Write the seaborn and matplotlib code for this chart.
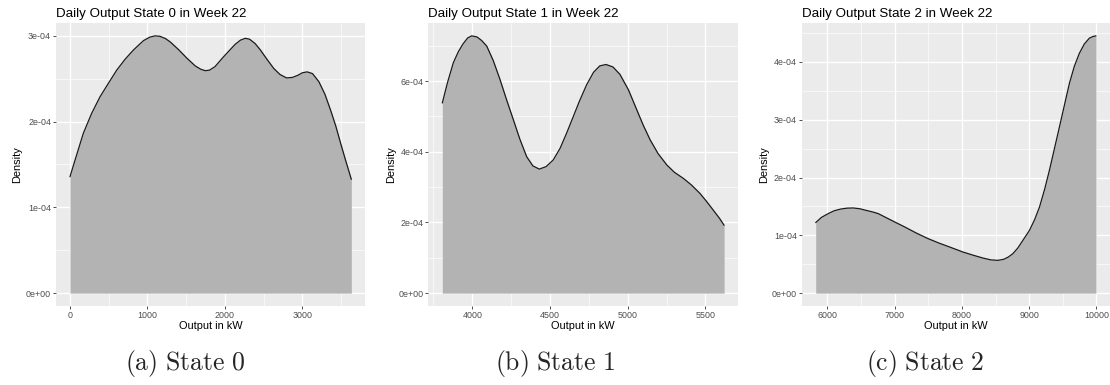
import matplotlib
matplotlib.use("Agg")
import matplotlib.pyplot as plt
import numpy as np
import pandas as pd
import seaborn as sns
from matplotlib.ticker import FixedLocator, FuncFormatter

# Estimated density of daily output (kW) for each state in week 22.
# Density values are given in units of 1e-4.
state0_kw = [0, 65, 172, 280, 388, 496, 603, 711, 819, 948, 1030, 1099, 1160,
             1230, 1293, 1401, 1509, 1616, 1690, 1746, 1800, 1870, 1983, 2130,
             2200, 2264, 2320, 2390, 2458, 2540, 2630, 2710, 2794, 2870, 2940,
             3000, 3062, 3130, 3212, 3290, 3363, 3430, 3493, 3560, 3631]
state0_density = [1.357, 1.55, 1.863, 2.097, 2.29, 2.447, 2.60, 2.727, 2.835,
                  2.944, 2.985, 3.00, 2.995, 2.97, 2.93, 2.84, 2.74, 2.65,
                  2.61, 2.594, 2.60, 2.64, 2.757, 2.90, 2.95, 2.972, 2.96,
                  2.91, 2.835, 2.73, 2.62, 2.55, 2.51, 2.515, 2.54, 2.57,
                  2.58, 2.56, 2.466, 2.32, 2.135, 1.95, 1.747, 1.54, 1.327]

state1_kw = [3807, 3840, 3878, 3910, 3940, 3970, 3996, 4030, 4060, 4093, 4135,
             4178, 4220, 4264, 4305, 4350, 4390, 4431, 4475, 4521, 4565, 4607,
             4650, 4689, 4736, 4780, 4820, 4860, 4905, 4950, 5005, 5058, 5100,
             5144, 5195, 5251, 5300, 5357, 5410, 5465, 5510, 5550, 5590, 5620]
state1_density = [5.38, 5.95, 6.52, 6.83, 7.05, 7.22, 7.28, 7.25, 7.15, 6.99,
                  6.58, 6.05, 5.48, 4.91, 4.37, 3.86, 3.60, 3.51, 3.58, 3.77,
                  4.10, 4.53, 5.00, 5.43, 5.90, 6.25, 6.43, 6.47, 6.40, 6.19,
                  5.75, 5.19, 4.75, 4.34, 3.95, 3.63, 3.42, 3.25, 3.06, 2.82,
                  2.58, 2.35, 2.12, 1.92]

state2_kw = [5825, 5910, 6012, 6100, 6200, 6290, 6383, 6480, 6580, 6670, 6754,
             6950, 7150, 7320, 7496, 7660, 7819, 8015, 8170, 8312, 8430, 8534,
             8620, 8690, 8757, 8830, 8910, 9004, 9080, 9153, 9230, 9301, 9375,
             9450, 9525, 9598, 9670, 9746, 9820, 9894, 9950, 9993]
state2_density = [1.22, 1.31, 1.376, 1.425, 1.455, 1.47, 1.473, 1.46, 1.43,
                  1.405, 1.376, 1.26, 1.144, 1.04, 0.943, 0.865, 0.797, 0.711,
                  0.655, 0.607, 0.575, 0.567, 0.585, 0.625, 0.683, 0.78, 0.92,
                  1.087, 1.27, 1.49, 1.80, 2.127, 2.50, 2.877, 3.26, 3.63,
                  3.92, 4.149, 4.31, 4.41, 4.44, 4.45]

titles = ["Daily Output State 0 in Week 22",
          "Daily Output State 1 in Week 22",
          "Daily Output State 2 in Week 22"]
captions = ["(a) State 0", "(b) State 1", "(c) State 2"]

x_ticks = [[0, 1000, 2000, 3000],
           [4000, 4500, 5000, 5500],
           [6000, 7000, 8000, 9000, 10000]]
y_ticks = [[0, 1e-4, 2e-4, 3e-4],
           [0, 2e-4, 4e-4, 6e-4],
           [0, 1e-4, 2e-4, 3e-4, 4e-4]]

sns.set_theme(style="darkgrid", rc={
    "axes.facecolor": "#EBEBEB",
    "figure.facecolor": "white",
    "grid.color": "white",
})
plt.rcParams["font.family"] = ["Liberation Sans", "DejaVu Sans"]
plt.rcParams["mathtext.fontset"] = "cm"

W, H = 1110, 385
fig = plt.figure(figsize=(W / 100, H / 100), dpi=100)

panel_left = [55.9, 428.2, 801.7]
panel_width = [309.5, 310.0, 308.3]
panel_top, panel_bottom = 23.0, 306.0
ylabel_x = [17.5, 391.0, 764.0]

series = [(state0_kw, state0_density),
          (state1_kw, state1_density),
          (state2_kw, state2_density)]

for i, (kw, dens) in enumerate(series):
    ax = fig.add_axes([panel_left[i] / W, (H - panel_bottom) / H,
                       panel_width[i] / W, (panel_bottom - panel_top) / H])
    df = pd.DataFrame({"kw": kw, "density": np.array(dens) * 1e-4})

    ax.fill_between(df["kw"], 0, df["density"], color="#B3B3B3", lw=0,
                    zorder=2)
    sns.lineplot(data=df, x="kw", y="density", ax=ax, color="#1a1a1a",
                 lw=0.9, zorder=3)

    # ggplot-style 5 % expansion of both scales
    x0, x1 = df["kw"].min(), df["kw"].max()
    pad = 0.05 * (x1 - x0)
    ax.set_xlim(x0 - pad, x1 + pad)
    ymax = df["density"].max()
    ax.set_ylim(-0.05 * ymax, 1.05 * ymax)

    xt, yt = x_ticks[i], y_ticks[i]
    ax.xaxis.set_major_locator(FixedLocator(xt))
    ax.yaxis.set_major_locator(FixedLocator(yt))
    xstep, ystep = xt[1] - xt[0], yt[1] - yt[0]
    ax.xaxis.set_minor_locator(FixedLocator(
        [xt[0] - xstep / 2] + [t + xstep / 2 for t in xt]))
    ax.yaxis.set_minor_locator(FixedLocator([t + ystep / 2 for t in yt]))
    ax.xaxis.set_major_formatter(FuncFormatter(lambda v, p: f"{v:g}"))
    ax.yaxis.set_major_formatter(FuncFormatter(lambda v, p: f"{v:.0e}"))

    ax.grid(which="major", color="white", lw=0.95)
    ax.grid(which="minor", color="white", lw=0.45)
    ax.set_axisbelow(True)
    for s in ax.spines.values():
        s.set_visible(False)

    ax.tick_params(which="major", length=2.2, width=0.6, color="#333333",
                   labelsize=6.4, labelcolor="#4D4D4D", pad=1.3,
                   bottom=True, left=True)
    ax.tick_params(which="minor", length=0, bottom=False, left=False)

    ax.set_xlabel("Output in kW", fontsize=7.9, color="black")
    ax.set_ylabel("Density", fontsize=7.9, color="black")
    ax.xaxis.label.set_verticalalignment("center")
    ax.yaxis.label.set_verticalalignment("center")
    ax.xaxis.set_label_coords(0.5, (panel_bottom - 325.7) / (panel_bottom - panel_top))
    ax.yaxis.set_label_coords((ylabel_x[i] - panel_left[i]) / panel_width[i], 0.5)

    ax.set_title(titles[i], loc="left", fontsize=9.6, pad=4.3, color="black")

    label = captions[i].replace(" ", r"\ ")
    fig.text((185 + 370 * i) / W, (H - 370) / H, rf"$\mathrm{{{label}}}$",
             ha="center", va="baseline", fontsize=18.5)

fig.savefig("out.png", dpi=100)
